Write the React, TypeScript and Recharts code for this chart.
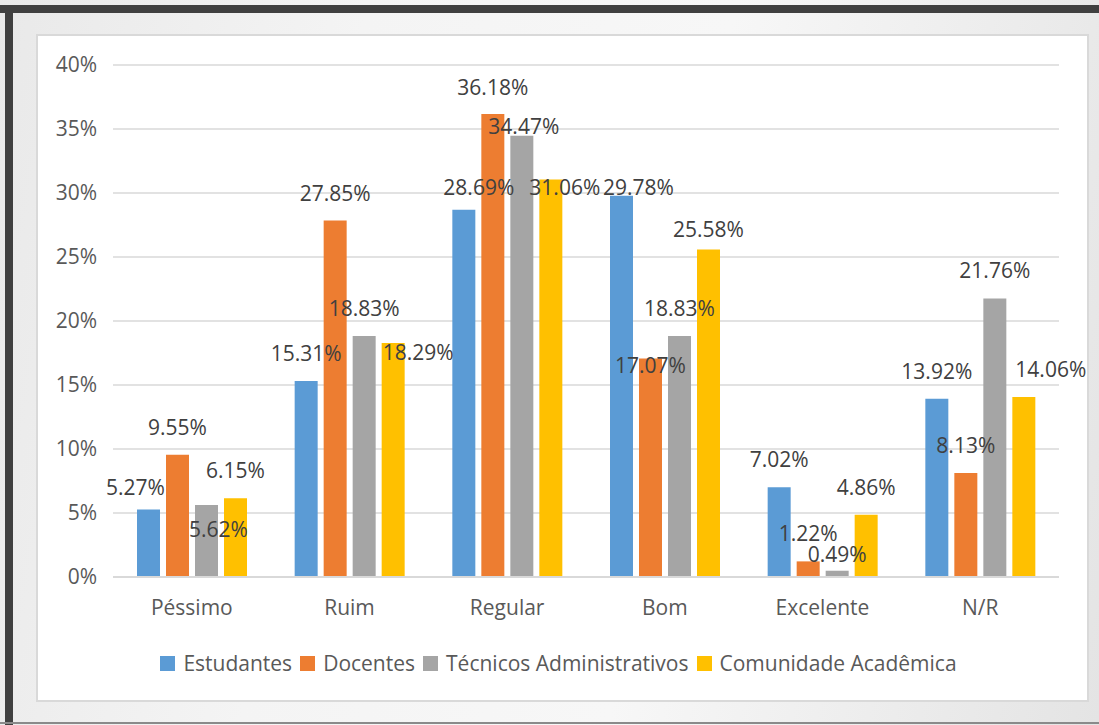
import React from 'react';
import { Bar, BarChart, CartesianGrid, LabelList, XAxis, YAxis } from 'recharts';

const categories = ['Péssimo', 'Ruim', 'Regular', 'Bom', 'Excelente', 'N/R'];
const estudantes = [5.27, 15.31, 28.69, 29.78, 7.02, 13.92];
const docentes = [9.55, 27.85, 36.18, 17.07, 1.22, 8.13];
const tecnicos = [5.62, 18.83, 34.47, 18.83, 0.49, 21.76];
const comunidade = [6.15, 18.29, 31.06, 25.58, 4.86, 14.06];
const yTicks = [0, 5, 10, 15, 20, 25, 30, 35, 40];

const series = [
  { key: 'estudantes', name: 'Estudantes', color: '#5b9bd5' },
  { key: 'docentes', name: 'Docentes', color: '#ed7d31' },
  { key: 'tecnicos', name: 'Técnicos Administrativos', color: '#a5a5a5' },
  { key: 'comunidade', name: 'Comunidade Acadêmica', color: '#ffc000' },
];

// label nudges (dx, dy) to mimic where the spreadsheet put overlapping labels
const labelNudge: Record<string, [number, number][]> = {
  estudantes: [[-13, 5], [0, 0], [15, 5], [17, 19], [0, 0], [0, 0]],
  docentes: [[0, 0], [0, 0], [0, 1], [0, 34], [0, 0], [0, 0]],
  tecnicos: [[12, 52], [0, 0], [2, 18], [0, 0], [0, 11], [0, 0]],
  comunidade: [[0, 0], [25, 37], [14, 36], [0, 7], [0, 0], [27, 0]],
};

const data = categories.map((label, i) => ({
  label,
  estudantes: estudantes[i],
  docentes: docentes[i],
  tecnicos: tecnicos[i],
  comunidade: comunidade[i],
}));

const font = '"Open Sans", "Noto Sans", sans-serif';

function makeLabel(key: string) {
  return (props: any) => {
    const { x, y, width, value, index } = props;
    const [dx, dy] = labelNudge[key][index] || [0, 0];
    return (
      <text
        x={Number(x) + Number(width) / 2 + dx}
        y={Number(y) - 28 + dy}
        textAnchor="middle"
        dominantBaseline="central"
        fill="#404040"
        fontSize={21}
        fontFamily={font}
      >
        {Number(value).toFixed(2)}%
      </text>
    );
  };
}

function ChartLegend() {
  return (
    <div
      style={{
        position: 'absolute',
        left: 37,
        width: 1051,
        top: 651,
        display: 'flex',
        justifyContent: 'center',
        alignItems: 'center',
        fontFamily: font,
        fontSize: 21,
        color: '#595959',
        lineHeight: '24px',
      }}
    >
      {series.map((s) => (
        <div key={s.key} style={{ display: 'flex', alignItems: 'center', marginRight: 8 }}>
          <span style={{ width: 15, height: 15, background: s.color, display: 'inline-block', marginRight: 8 }} />
          <span>{s.name}</span>
        </div>
      ))}
    </div>
  );
}

export default function App() {
  return (
    <div
      style={{
        position: 'absolute',
        left: 0,
        top: 0,
        width: 1099,
        height: 725,
        overflow: 'hidden',
        background: 'linear-gradient(100deg, #e9e9e9 0%, #f4f4f4 30%, #f7f7f7 60%, #e4e4e4 100%)',
      }}
    >
      <div style={{ position: 'absolute', left: 0, top: 5, width: 1099, height: 8, background: '#404040' }} />
      <div style={{ position: 'absolute', left: 5, top: 5, width: 8, height: 720, background: '#404040' }} />
      <div style={{ position: 'absolute', left: 0, top: 722, width: 1099, height: 2, background: '#8a8a8a' }} />
      <div
        style={{
          position: 'absolute',
          left: 36,
          top: 34,
          width: 1049,
          height: 664,
          background: '#ffffff',
          border: '2px solid #d9d9d9',
        }}
      />
      <div style={{ position: 'absolute', left: 0, top: 0 }}>
        <BarChart
          width={1099}
          height={725}
          data={data}
          margin={{ top: 65, right: 40, bottom: 108, left: 53 }}
          barCategoryGap={24}
          barGap={6}
        >
          <CartesianGrid stroke="#d9d9d9" strokeWidth={1.5} vertical={false} />
          <XAxis
            dataKey="label"
            tickLine={false}
            axisLine={{ stroke: '#d9d9d9', strokeWidth: 2 }}
            tick={{ fill: '#595959', fontSize: 21, fontFamily: font }}
            tickMargin={17}
            height={40}
          />
          <YAxis
            domain={[0, 40]}
            ticks={yTicks}
            width={60}
            tickLine={false}
            axisLine={false}
            tickMargin={10}
            tickFormatter={(v: number) => `${v}%`}
            tick={{ fill: '#595959', fontSize: 21, fontFamily: font }}
          />
          {series.map((s) => (
            <Bar key={s.key} dataKey={s.key} name={s.name} fill={s.color} isAnimationActive={false}>
              <LabelList dataKey={s.key} content={makeLabel(s.key)} />
            </Bar>
          ))}
        </BarChart>
      </div>
      <ChartLegend />
    </div>
  );
}
